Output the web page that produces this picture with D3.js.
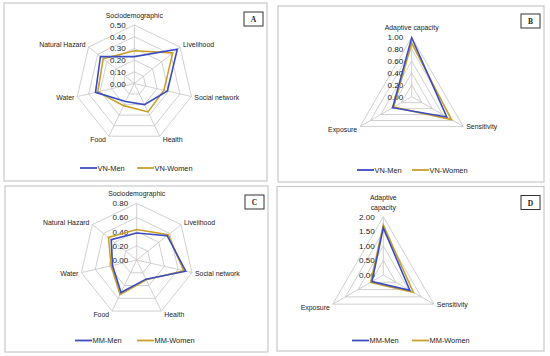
<!DOCTYPE html>
<html>
<head>
<meta charset="utf-8">
<script src="https://cdn.jsdelivr.net/npm/d3@7"></script>
<style>
  body { margin: 0; background: #fff; }
  text { font-family: "Liberation Sans", Arial, sans-serif; fill: #1a1a1a; }
</style>
</head>
<body>
<div id="chart"></div>
<script>
// Data
var axes7 = ["Sociodemographic", "Livelihood", "Social network", "Health", "Food", "Water", "Natural Hazard"];
var axes3 = ["Adaptive capacity", "Sensitivity", "Exposure"];

var vnMenA = [0.23, 0.47, 0.29, 0.20, 0.17, 0.34, 0.37];
var vnWomenA = [0.28, 0.42, 0.26, 0.27, 0.21, 0.32, 0.34];
var vnMenB = [0.99, 0.68, 0.37];
var vnWomenB = [0.90, 0.77, 0.35];
var mmMenC = [0.38, 0.55, 0.71, 0.30, 0.51, 0.35, 0.46];
var mmWomenC = [0.43, 0.57, 0.68, 0.31, 0.54, 0.37, 0.51];
var mmMenD = [1.62, 1.05, 0.45];
var mmWomenD = [1.71, 1.19, 0.50];

var ticksA = [0, 0.1, 0.2, 0.3, 0.4, 0.5];
var ticksB = [0, 0.2, 0.4, 0.6, 0.8, 1.0];
var ticksC = [0, 0.2, 0.4, 0.6, 0.8];
var ticksD = [0, 0.5, 1.0, 1.5, 2.0];

var svg = d3.select("#chart").append("svg")
  .attr("width", 550).attr("height", 356);

var menColor = "#3b4cc0";
var womenColor = "#c9a02c";

// panel layout: box, radar centre and radius, legend placement
var panels = [
  {tag: "A", box: [4, 3, 267, 181], cx: 134.3, cy: 83.5, r: 58.5, axes: axes7, ticks: ticksA,
   men: vnMenA, women: vnWomenA, names: ["VN-Men", "VN-Women"], legY: 168, legX: [80, 137]},
  {tag: "B", box: [278, 6, 544, 182], cx: 411.7, cy: 96.7, r: 59.5, axes: axes3, ticks: ticksB,
   men: vnMenB, women: vnWomenB, names: ["VN-Men", "VN-Women"], legY: 170, legX: [357, 412]},
  {tag: "C", box: [5, 186, 268, 352], cx: 136.7, cy: 260, r: 56.7, axes: axes7, ticks: ticksC,
   men: mmMenC, women: mmWomenC, names: ["MM-Men", "MM-Women"], legY: 340.5, legX: [75, 137]},
  {tag: "D", box: [277, 186.5, 544, 351], cx: 383.3, cy: 275, r: 58.3, axes: axes3, ticks: ticksD,
   men: mmMenD, women: mmWomenD, names: ["MM-Men", "MM-Women"], legY: 340.5, legX: [352, 412]}
];

panels.forEach(function(p) {
  var g = svg.append("g");
  var b = p.box;

  // panel frame
  g.append("rect")
    .attr("x", b[0]).attr("y", b[1])
    .attr("width", b[2] - b[0]).attr("height", b[3] - b[1])
    .attr("fill", "none").attr("stroke", "#c8c8c8").attr("stroke-width", 1.2);

  // letter tag box
  var tagY = p.tag == "B" ? b[1] + 8 : b[1] + 9;
  g.append("rect")
    .attr("x", b[2] - 23).attr("y", tagY)
    .attr("width", 19).attr("height", 14)
    .attr("fill", "#fff").attr("stroke", "#333").attr("stroke-width", 1);
  g.append("text")
    .attr("x", b[2] - 13.5).attr("y", tagY + 10)
    .attr("text-anchor", "middle")
    .style("font-family", "'Liberation Serif', serif")
    .style("font-weight", "bold").style("font-size", "7.5px")
    .text(p.tag);

  var n = p.axes.length;
  var maxV = p.ticks[p.ticks.length - 1];
  var rScale = d3.scaleLinear().domain([0, maxV]).range([0, p.r]);
  var angle = d3.scaleLinear().domain([0, n]).range([0, 2 * Math.PI]);

  function pt(i, v) {
    var a = angle(i);
    return [p.cx + Math.sin(a) * rScale(v), p.cy - Math.cos(a) * rScale(v)];
  }

  // grid rings
  p.ticks.slice(1).forEach(function(t) {
    g.append("path")
      .attr("d", d3.line()(d3.range(n).map(function(i) { return pt(i, t); })) + "Z")
      .attr("fill", "none").attr("stroke", "#c4c4c4").attr("stroke-width", 0.8);
  });
  // spokes
  d3.range(n).forEach(function(i) {
    var e = pt(i, maxV);
    g.append("line")
      .attr("x1", p.cx).attr("y1", p.cy).attr("x2", e[0]).attr("y2", e[1])
      .attr("stroke", "#c4c4c4").attr("stroke-width", 0.8);
  });

  // tick labels
  p.ticks.forEach(function(t) {
    g.append("text")
      .attr("x", p.cx - 8.5).attr("y", p.cy - rScale(t) + 3)
      .attr("text-anchor", "end")
      .style("font-size", "8.1px")
      .text(t.toFixed(2));
  });

  // axis labels
  p.axes.forEach(function(name, i) {
    var a = angle(i);
    var s = Math.sin(a), c = Math.cos(a);
    var e = pt(i, maxV);
    var lab = g.append("text").style("font-size", "6.9px");
    if (Math.abs(s) < 0.1) {
      lab.attr("text-anchor", "middle").attr("x", e[0]);
      if (p.tag == "D") {
        lab.append("tspan").attr("x", e[0]).attr("y", e[1] - 17).text("Adaptive");
        lab.append("tspan").attr("x", e[0]).attr("y", e[1] - 7).text("capacity");
      } else {
        lab.attr("y", e[1] - 7).text(name);
      }
    } else {
      lab.attr("text-anchor", s > 0 ? "start" : "end")
        .attr("x", e[0] + (s > 0 ? 3 : -3))
        .attr("y", e[1] + (c < -0.5 ? 6 : (c > 0.5 ? 0 : 3)))
        .text(name);
    }
  });

  // series
  var series = [{v: p.women, col: womenColor}, {v: p.men, col: menColor}];
  series.forEach(function(sr) {
    g.append("path")
      .attr("d", d3.line()(sr.v.map(function(v, i) { return pt(i, v); })) + "Z")
      .attr("fill", "none").attr("stroke", sr.col).attr("stroke-width", 1.6)
      .attr("stroke-linejoin", "miter");
  });

  // legend
  [menColor, womenColor].forEach(function(col, k) {
    var lx = p.legX[k];
    g.append("line")
      .attr("x1", lx).attr("x2", lx + 17).attr("y1", p.legY).attr("y2", p.legY)
      .attr("stroke", col).attr("stroke-width", 1.8);
    g.append("text")
      .attr("x", lx + 17.5).attr("y", p.legY + 2.6)
      .style("font-size", "7.4px")
      .text(p.names[k]);
  });
});
</script>
</body>
</html>
